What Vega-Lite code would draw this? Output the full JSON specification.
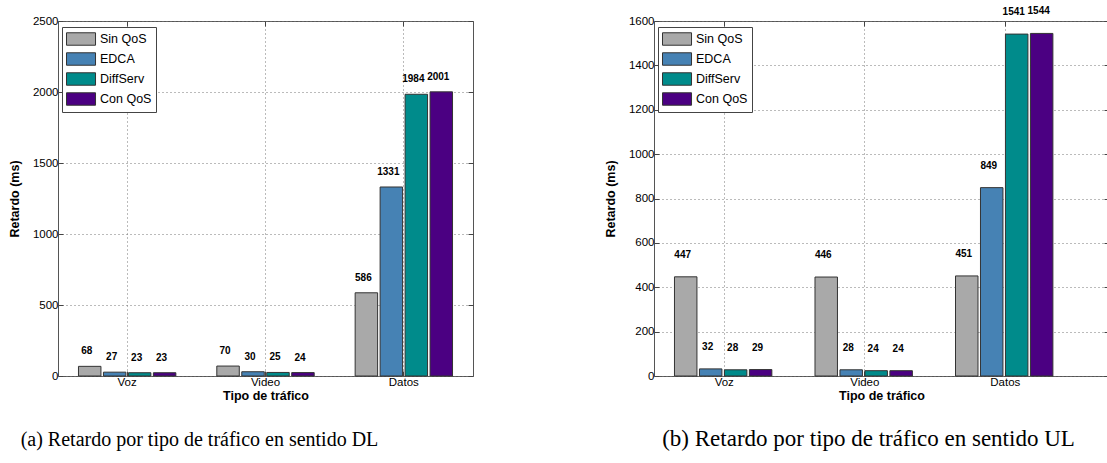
{
  "$schema": "https://vega.github.io/schema/vega-lite/v6.json",
  "padding": {"left": 7, "top": 5, "right": 0, "bottom": 0},
  "background": "white",
  "spacing": 129,
  "datasets": {
    "dl": [
      {"tipo": "Voz", "serie": "Sin QoS", "valor": 68},
      {"tipo": "Voz", "serie": "EDCA", "valor": 27},
      {"tipo": "Voz", "serie": "DiffServ", "valor": 23},
      {"tipo": "Voz", "serie": "Con QoS", "valor": 23},
      {"tipo": "Video", "serie": "Sin QoS", "valor": 70},
      {"tipo": "Video", "serie": "EDCA", "valor": 30},
      {"tipo": "Video", "serie": "DiffServ", "valor": 25},
      {"tipo": "Video", "serie": "Con QoS", "valor": 24},
      {"tipo": "Datos", "serie": "Sin QoS", "valor": 586},
      {"tipo": "Datos", "serie": "EDCA", "valor": 1331},
      {"tipo": "Datos", "serie": "DiffServ", "valor": 1984},
      {"tipo": "Datos", "serie": "Con QoS", "valor": 2001}
    ],
    "ul": [
      {"tipo": "Voz", "serie": "Sin QoS", "valor": 447},
      {"tipo": "Voz", "serie": "EDCA", "valor": 32},
      {"tipo": "Voz", "serie": "DiffServ", "valor": 28},
      {"tipo": "Voz", "serie": "Con QoS", "valor": 29},
      {"tipo": "Video", "serie": "Sin QoS", "valor": 446},
      {"tipo": "Video", "serie": "EDCA", "valor": 28},
      {"tipo": "Video", "serie": "DiffServ", "valor": 24},
      {"tipo": "Video", "serie": "Con QoS", "valor": 24},
      {"tipo": "Datos", "serie": "Sin QoS", "valor": 451},
      {"tipo": "Datos", "serie": "EDCA", "valor": 849},
      {"tipo": "Datos", "serie": "DiffServ", "valor": 1541},
      {"tipo": "Datos", "serie": "Con QoS", "valor": 1544}
    ]
  },
  "config": {
    "view": {"stroke": "#555", "strokeWidth": 1},
    "font": "Liberation Sans",
    "axis": {
      "labelFont": "Liberation Sans",
      "labelFontSize": 11.5,
      "labelColor": "black",
      "titleFont": "Liberation Sans",
      "titleFontSize": 12.5,
      "titleFontWeight": "bold",
      "titleColor": "black",
      "domain": false,
      "tickColor": "#444",
      "tickSize": -5,
      "gridColor": "#777",
      "gridDash": [1, 3],
      "gridWidth": 1
    },
    "legend": {
      "strokeColor": "#444",
      "fillColor": "white",
      "padding": 4,
      "title": null,
      "symbolType": "M-1,-0.83L2.87,-0.83L2.87,0.83L-1,0.83Z",
      "symbolSize": 225,
      "symbolStrokeColor": "#333",
      "symbolStrokeWidth": 1,
      "symbolOpacity": 1,
      "labelFont": "Liberation Sans",
      "labelFontSize": 12.5,
      "labelColor": "black",
      "labelOffset": 18,
      "rowPadding": 2
    }
  },
  "hconcat": [
    {
      "width": 415,
      "height": 355,
      "data": {"name": "dl"},
      "title": {"text": "(a) Retardo por tipo de tráfico en sentido DL", "orient": "bottom", "font": "Liberation Serif", "fontSize": 20, "fontWeight": "normal", "color": "black", "offset": 28, "dx": -66},
      "encoding": {
        "x": {"field": "tipo", "type": "nominal", "sort": ["Voz", "Video", "Datos"], "scale": {"paddingInner": 0, "paddingOuter": 0}, "axis": {"title": "Tipo de tráfico", "labelAngle": 0, "grid": true, "bandPosition": 0.5, "labelPadding": 5, "titlePadding": 2}},
        "xOffset": {"field": "serie", "sort": ["Sin QoS", "EDCA", "DiffServ", "Con QoS"], "scale": {"paddingInner": 0.1, "paddingOuter": 0.82}},
        "y": {"field": "valor", "type": "quantitative", "scale": {"domain": [0, 2500], "nice": false}, "axis": {"title": "Retardo (ms)", "format": "d", "values": [0, 500, 1000, 1500, 2000, 2500], "grid": true, "labelPadding": 5, "titlePadding": 11}}
      },
      "layer": [
        {
          "mark": {"type": "bar", "stroke": "#333", "strokeWidth": 1},
          "encoding": {
            "color": {"field": "serie", "type": "nominal", "sort": ["Sin QoS", "EDCA", "DiffServ", "Con QoS"], "scale": {"domain": ["Sin QoS", "EDCA", "DiffServ", "Con QoS"], "range": ["#a9a9a9", "#4682b4", "#008b8b", "#4b0082"]}, "legend": {"orient": "none", "legendX": 4, "legendY": 6}}
          }
        },
        {
          "mark": {"type": "text", "baseline": "bottom", "dy": -10, "dx": -3, "fontSize": 10, "fontWeight": "bold", "font": "Liberation Sans", "color": "black"},
          "encoding": {
            "text": {"field": "valor", "type": "quantitative"},
            "x": {"field": "tipo", "type": "nominal", "sort": ["Voz", "Video", "Datos"], "axis": {"orient": "top", "title": null, "labels": false, "grid": false, "bandPosition": 0.5}},
            "y": {"field": "valor", "type": "quantitative", "axis": {"orient": "right", "title": null, "labels": false, "grid": false, "values": [0, 500, 1000, 1500, 2000, 2500]}}
          }
        }
      ],
      "resolve": {"axis": {"x": "independent", "y": "independent"}}
    },
    {
      "width": 455,
      "height": 355,
      "data": {"name": "ul"},
      "title": {"text": "(b) Retardo por tipo de tráfico en sentido UL", "orient": "bottom", "font": "Liberation Serif", "fontSize": 23, "fontWeight": "normal", "color": "black", "offset": 26, "dx": -13},
      "encoding": {
        "x": {"field": "tipo", "type": "nominal", "sort": ["Voz", "Video", "Datos"], "scale": {"paddingInner": 0, "paddingOuter": 0.119, "align": 0}, "axis": {"title": "Tipo de tráfico", "labelAngle": 0, "grid": true, "bandPosition": 0.5, "labelPadding": 5, "titlePadding": 2}},
        "xOffset": {"field": "serie", "sort": ["Sin QoS", "EDCA", "DiffServ", "Con QoS"], "scale": {"paddingInner": 0.1, "paddingOuter": 0.82}},
        "y": {"field": "valor", "type": "quantitative", "scale": {"domain": [0, 1600], "nice": false}, "axis": {"title": "Retardo (ms)", "format": "d", "values": [0, 200, 400, 600, 800, 1000, 1200, 1400, 1600], "grid": true, "labelPadding": 5, "titlePadding": 11}}
      },
      "layer": [
        {
          "mark": {"type": "bar", "stroke": "#333", "strokeWidth": 1},
          "encoding": {
            "color": {"field": "serie", "type": "nominal", "sort": ["Sin QoS", "EDCA", "DiffServ", "Con QoS"], "scale": {"domain": ["Sin QoS", "EDCA", "DiffServ", "Con QoS"], "range": ["#a9a9a9", "#4682b4", "#008b8b", "#4b0082"]}, "legend": {"orient": "none", "legendX": 4, "legendY": 6}}
          }
        },
        {
          "mark": {"type": "text", "baseline": "bottom", "dy": -17, "dx": -3, "fontSize": 10, "fontWeight": "bold", "font": "Liberation Sans", "color": "black"},
          "encoding": {
            "text": {"field": "valor", "type": "quantitative"},
            "x": {"field": "tipo", "type": "nominal", "sort": ["Voz", "Video", "Datos"], "axis": {"orient": "top", "title": null, "labels": false, "grid": false, "bandPosition": 0.5}},
            "y": {"field": "valor", "type": "quantitative", "axis": {"orient": "right", "title": null, "labels": false, "grid": false, "values": [0, 200, 400, 600, 800, 1000, 1200, 1400, 1600]}}
          }
        }
      ],
      "resolve": {"axis": {"x": "independent", "y": "independent"}}
    }
  ],
  "resolve": {"scale": {"color": "independent"}, "legend": {"color": "independent"}}
}
